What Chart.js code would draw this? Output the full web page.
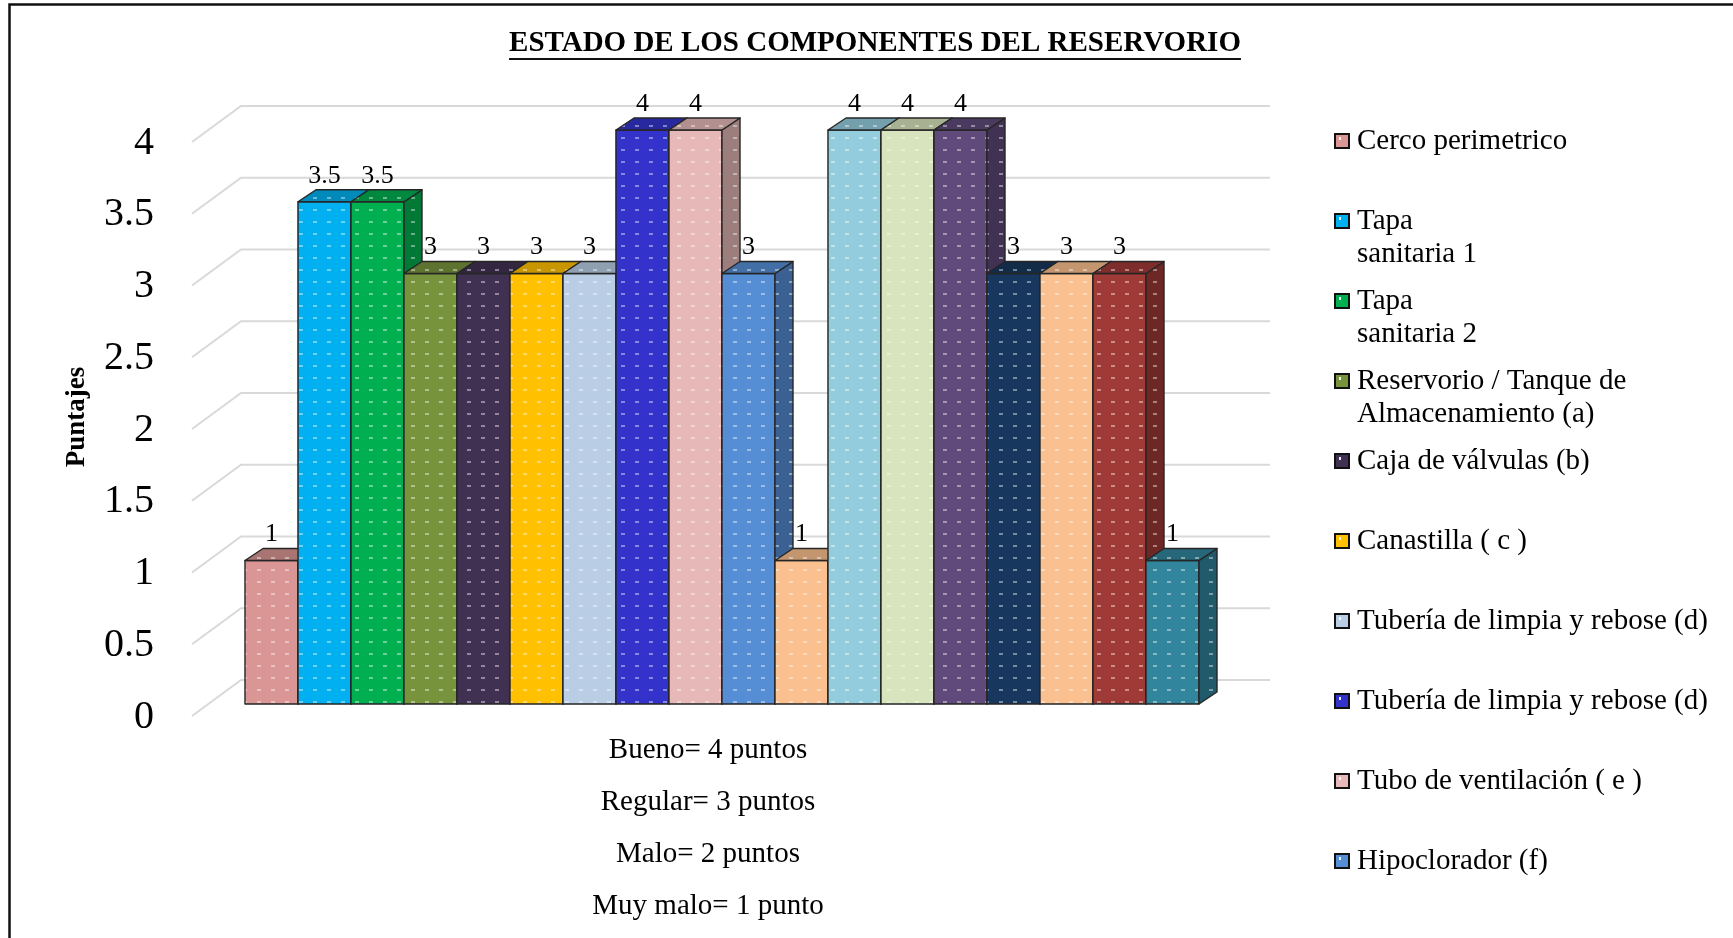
<!DOCTYPE html>
<html lang="es">
<head>
<meta charset="utf-8">
<title>Estado de los componentes del reservorio</title>
<script src="https://cdn.jsdelivr.net/npm/chart.js@4.4.1/dist/chart.umd.min.js"></script>
<style>
  html, body { margin: 0; padding: 0; background: #fff; }
  #wrap { position: relative; width: 1733px; height: 938px; }
</style>
</head>
<body>
<div id="wrap"><canvas id="chart" width="1733" height="938"></canvas></div>
<script>
// Chart data
const chartTitle = 'ESTADO DE LOS COMPONENTES DEL RESERVORIO';
const axisTitle = 'Puntajes';

// only the first 10 names fit in the original legend, the rest are cut off
const componentNames = [
    'Cerco perimetrico',
    'Tapa\nsanitaria 1',
    'Tapa\nsanitaria 2',
    'Reservorio / Tanque de\nAlmacenamiento (a)',
    'Caja de válvulas (b)',
    'Canastilla ( c )',
    'Tubería de limpia y rebose (d)',
    'Tubería de limpia y rebose (d)',
    'Tubo de ventilación ( e )',
    'Hipoclorador (f)',
    '', '', '', '', '', '', '', ''
];

const scores = [1, 3.5, 3.5, 3, 3, 3, 3, 4, 4, 3, 1, 4, 4, 4, 3, 3, 3, 1];

const barColors = [
    '#D99694', '#00B0F0', '#00B050', '#77933C', '#403152', '#FFC000',
    '#B9CDE5', '#3333CC', '#E6B9B8', '#558ED5', '#FAC090', '#93CDDD',
    '#D7E4BD', '#604A7B', '#17375E', '#FAC090', '#A03A37', '#31859C'
];

// the single category: the scoring key printed under the bars
const scaleKey = ['Bueno= 4 puntos', 'Regular= 3 puntos', 'Malo= 2 puntos', 'Muy malo= 1 punto'];

const legendVisible = 10;

// 3D look
const DX = 18;   // bar depth, x
const DY = 12;   // bar depth, y
const SERIF = '"Liberation Serif", "Times New Roman", serif';

function shade(hex, f) {
    const n = parseInt(hex.slice(1), 16);
    const r = Math.round(((n >> 16) & 255) * f);
    const g = Math.round(((n >> 8) & 255) * f);
    const b = Math.round((n & 255) * f);
    return `rgb(${r},${g},${b})`;
}

function makeDots(ctx) {
    const c = document.createElement('canvas');
    c.width = 14;
    c.height = 12;
    const g = c.getContext('2d');
    g.fillStyle = 'rgba(255,255,255,0.42)';
    g.fillRect(5, 5, 4, 2);
    return ctx.createPattern(c, 'repeat');
}

function fillFace(ctx, pts, color, dots) {
    ctx.beginPath();
    ctx.moveTo(pts[0][0], pts[0][1]);
    for (let i = 1; i < pts.length; i++) ctx.lineTo(pts[i][0], pts[i][1]);
    ctx.closePath();
    ctx.fillStyle = color;
    ctx.fill();
    ctx.fillStyle = dots;
    ctx.fill();
    ctx.stroke();
}

const reservoirPlugin = {
    id: 'reservoir3d',
    beforeDraw(chart) {
        const ctx = chart.ctx;
        ctx.save();
        ctx.fillStyle = '#fff';
        ctx.fillRect(0, 0, chart.width, chart.height);
        // frame (runs past the right and bottom edge in the original)
        ctx.strokeStyle = '#111';
        ctx.lineWidth = 2.5;
        ctx.beginPath();
        ctx.moveTo(9.5, chart.height);
        ctx.lineTo(9.5, 4.5);
        ctx.lineTo(chart.width, 4.5);
        ctx.stroke();

        // title, underlined
        ctx.font = `bold 29px ${SERIF}`;
        ctx.fillStyle = '#000';
        ctx.textAlign = 'center';
        ctx.textBaseline = 'middle';
        const tx = 875, ty = 44;
        ctx.fillText(chartTitle, tx, ty);
        const w = ctx.measureText(chartTitle).width;
        ctx.lineWidth = 2;
        ctx.beginPath();
        ctx.moveTo(tx - w / 2, ty + 15);
        ctx.lineTo(tx + w / 2, ty + 15);
        ctx.stroke();
        ctx.restore();
    },
    beforeDatasetsDraw(chart) {
        // back wall and side wall gridlines
        const {ctx, chartArea} = chart;
        const yScale = chart.scales.y;
        ctx.save();
        ctx.strokeStyle = '#d9d9d9';
        ctx.lineWidth = 2;
        yScale.ticks.forEach(t => {
            const yf = yScale.getPixelForValue(t.value);
            const yb = yf - 24;
            ctx.beginPath();
            ctx.moveTo(chartArea.left - 53, yf + 12);
            ctx.lineTo(chartArea.left - 4, yb);
            ctx.lineTo(chartArea.right + 71, yb);
            ctx.stroke();
        });
        ctx.restore();
    },
    afterDatasetsDraw(chart) {
        const ctx = chart.ctx;
        if (!chart.$dots) chart.$dots = makeDots(ctx);
        const dots = chart.$dots;
        ctx.save();
        ctx.strokeStyle = '#262626';
        ctx.lineWidth = 1.4;
        ctx.lineJoin = 'round';
        const bars = [];
        chart.data.datasets.forEach((ds, i) => {
            const el = chart.getDatasetMeta(i).data[0];
            const {x, y, base, width} = el.getProps(['x', 'y', 'base', 'width'], true);
            const l = x - width / 2, r = x + width / 2;
            const col = ds.backgroundColor;
            // front, right side, top (left to right so the next bar hides the side)
            fillFace(ctx, [[l, y], [r, y], [r, base], [l, base]], col, dots);
            fillFace(ctx, [[r, y], [r + DX, y - DY], [r + DX, base - DY], [r, base]], shade(col, 0.68), dots);
            fillFace(ctx, [[l, y], [l + DX, y - DY], [r + DX, y - DY], [r, y]], shade(col, 0.78), dots);
            bars.push({x, y, v: ds.data[0]});
        });
        // value labels
        ctx.font = `26px ${SERIF}`;
        ctx.fillStyle = '#000';
        ctx.textAlign = 'center';
        ctx.textBaseline = 'middle';
        bars.forEach(b => ctx.fillText(String(b.v), b.x, b.y - DY - 14));
        ctx.restore();
    },
    afterDraw(chart) {
        // legend on the right, only the entries that fit
        const {ctx, chartArea} = chart;
        const bx = chartArea.right + 136;
        ctx.save();
        ctx.font = `29px ${SERIF}`;
        ctx.textAlign = 'left';
        ctx.textBaseline = 'middle';
        chart.data.datasets.slice(0, legendVisible).forEach((ds, i) => {
            const cy = 141 + i * 80;
            ctx.fillStyle = ds.backgroundColor;
            ctx.fillRect(bx, cy - 7, 14, 14);
            ctx.fillStyle = 'rgba(255,255,255,0.9)';
            ctx.fillRect(bx + 4, cy - 4, 2, 3);
            ctx.strokeStyle = '#111';
            ctx.lineWidth = 2;
            ctx.strokeRect(bx, cy - 7, 14, 14);
            ctx.fillStyle = '#000';
            ds.label.split('\n').forEach((line, k) => {
                ctx.fillText(line, bx + 22, cy + k * 33);
            });
        });
        ctx.restore();
    }
};

const datasets = scores.map((v, i) => ({
    label: componentNames[i],
    data: [v],
    backgroundColor: barColors[i],
    borderWidth: 0,
    categoryPercentage: 1,
    barPercentage: 1
}));

new Chart(document.getElementById('chart'), {
    type: 'bar',
    data: {
        labels: [scaleKey],
        datasets: datasets
    },
    options: {
        responsive: false,
        animation: false,
        events: [],
        layout: { padding: { top: 130, left: 40, right: 534, bottom: 0 } },
        plugins: {
            legend: { display: false },
            title: { display: false },
            tooltip: { enabled: false }
        },
        scales: {
            x: {
                grid: { display: false, drawTicks: false },
                border: { display: false },
                ticks: {
                    color: '#000',
                    font: { family: SERIF, size: 29, lineHeight: 52 / 29 },
                    padding: 20,
                    labelOffset: -14,
                    maxRotation: 0,
                    minRotation: 0
                },
                afterFit(scale) { scale.height = 234; }
            },
            y: {
                min: 0,
                max: 4,
                grid: { display: false, drawTicks: false },
                border: { display: false },
                ticks: {
                    stepSize: 0.5,
                    color: '#000',
                    font: { family: SERIF, size: 40 },
                    padding: 91,
                    labelOffset: 13,
                    callback: value => String(value)
                },
                title: {
                    display: true,
                    text: axisTitle,
                    color: '#000',
                    font: { family: SERIF, size: 27, weight: 'bold' },
                    padding: { top: 21, bottom: 0 }
                },
                afterFit(scale) { scale.width = 205; }
            }
        }
    },
    plugins: [reservoirPlugin]
});
</script>
</body>
</html>
